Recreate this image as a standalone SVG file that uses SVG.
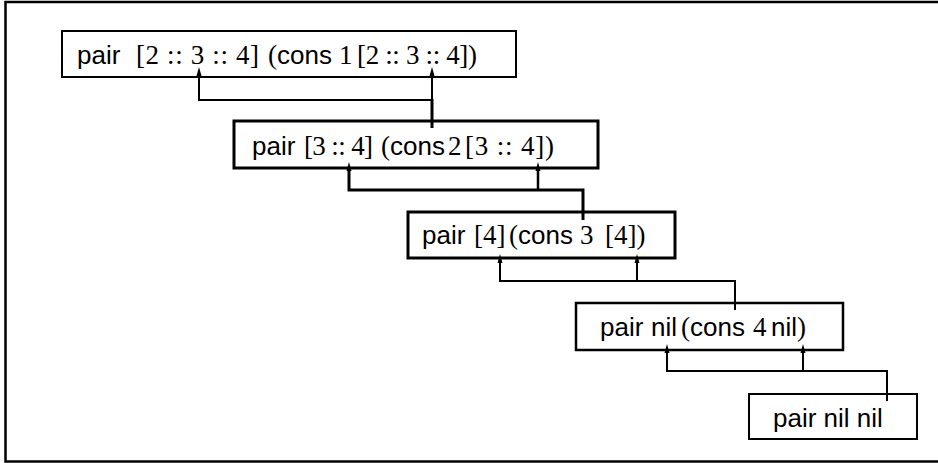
<svg xmlns="http://www.w3.org/2000/svg" width="938" height="463" viewBox="0 0 938 463">
<defs>
<style>
.box{fill:none;stroke:#000}
.s{font-family:"Liberation Sans",Arial,sans-serif;font-size:26px;fill:#000}
.m{font-family:"Liberation Serif","Times New Roman",serif;font-size:27px;fill:#000}
.c{fill:none;stroke:#000}
.ah{fill:#000}
</style>
</defs>
<rect width="938" height="463" fill="#fff"/>
<path d="M941,2 H5.5 V461.5 H941" fill="none" stroke="#000" stroke-width="2.5"/>
<g id="connectors">
<path class="c" stroke-width="2" d="M432,100 H199 V76"/>
<path class="c" stroke-width="2" d="M432,100 V76"/>
<path class="c" stroke-width="3" d="M432,128 V99"/>
<path class="ah" d="M199,67 l-2.5,9 h5 z M432,67 l-2.5,9 h5 z"/>
<path class="c" stroke-width="3" d="M583,220 V190 H349 V170"/>
<path class="c" stroke-width="2.5" d="M538,190 V170"/>
<path class="ah" d="M349,162 l-2.5,9 h5 z M538,162 l-2.5,9 h5 z"/>
<path class="c" stroke-width="2" d="M735,310 V281 H500 V263"/>
<path class="c" stroke-width="2" d="M637,281 V263"/>
<path class="ah" d="M500,254 l-2.5,9 h5 z M637,254 l-2.5,9 h5 z"/>
<path class="c" stroke-width="2" d="M887,401 V371 H667 V353"/>
<path class="c" stroke-width="2" d="M803,371 V353"/>
<path class="ah" d="M667,344 l-2.5,9 h5 z M803,344 l-2.5,9 h5 z"/>
</g>
<g id="n1">
<rect class="box" x="62" y="31" width="454" height="46" stroke-width="2"/>
<text y="64"><tspan class="s" x="77">pair</tspan><tspan class="m" x="136" textLength="123">[2 :: 3 :: 4]</tspan><tspan class="m" x="268">(</tspan><tspan class="s">cons</tspan><tspan class="m" x="339">1</tspan><tspan class="m" x="357" textLength="120">[2 :: 3 :: 4])</tspan></text>
</g>
<g id="n2">
<rect class="box" x="234" y="121" width="364" height="47" stroke-width="3"/>
<text y="155"><tspan class="s" x="252">pair</tspan><tspan class="m" x="304" textLength="69">[3 :: 4]</tspan><tspan class="m" x="381">(</tspan><tspan class="s">cons</tspan><tspan class="m" x="448">2</tspan><tspan class="m" x="465" textLength="89">[3 :: 4])</tspan></text>
</g>
<g id="n3">
<rect class="box" x="408" y="212" width="267" height="46" stroke-width="3"/>
<text y="244"><tspan class="s" x="422">pair</tspan><tspan class="m" x="474">[4]</tspan><tspan class="m" x="509">(</tspan><tspan class="s">cons</tspan><tspan class="m" x="580">3</tspan><tspan class="m" x="605">[4])</tspan></text>
</g>
<g id="n4">
<rect class="box" x="576" y="303" width="267" height="47" stroke-width="2.5"/>
<text y="336"><tspan class="s" x="600">pair</tspan><tspan class="s" x="651">nil</tspan><tspan class="m" x="681">(</tspan><tspan class="s">cons</tspan><tspan class="m" x="753">4</tspan><tspan class="s" x="771">nil</tspan><tspan class="m">)</tspan></text>
</g>
<g id="n5">
<rect class="box" x="749" y="394" width="168" height="45" stroke-width="2"/>
<text y="427"><tspan class="s" x="773">pair nil nil</tspan></text>
</g>
</svg>
